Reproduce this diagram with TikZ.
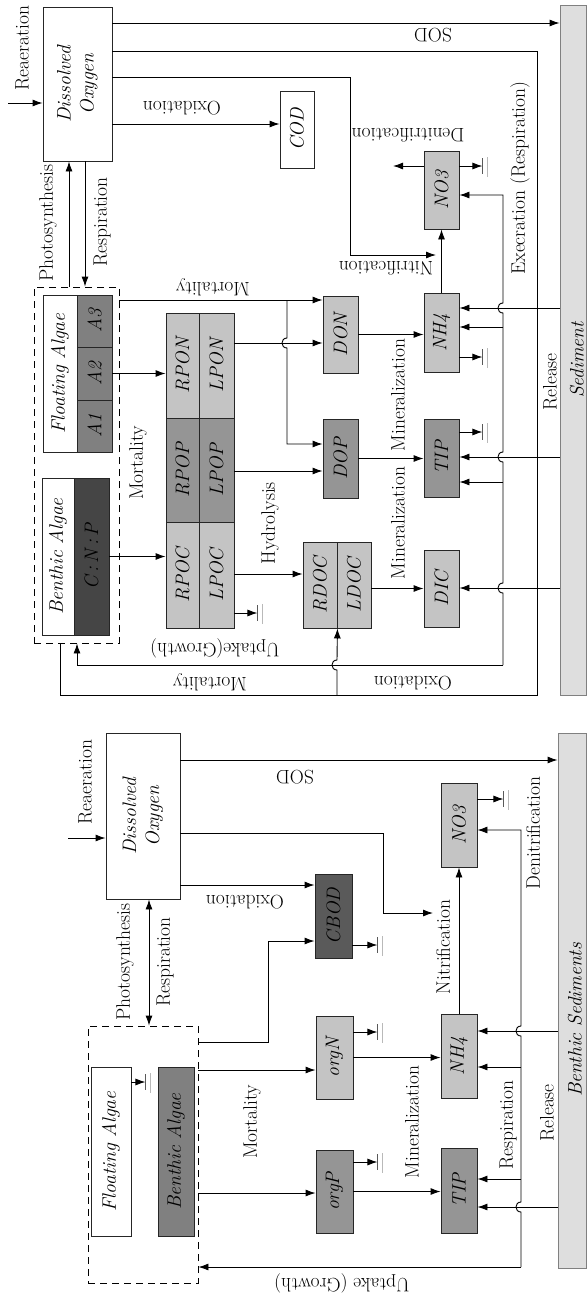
\documentclass[tikz,border=0pt]{standalone}
\usepackage{xcolor}
\usepackage{graphicx}
\usepackage{tikz}
\usetikzlibrary{shapes,arrows,arrows.meta,positioning}

\definecolor{boxlight}{HTML}{C4C4C4}
\definecolor{boxmid}{HTML}{959595}
\definecolor{boxalg}{HTML}{808080}
\definecolor{boxdark}{HTML}{454545}
\definecolor{boxcbod}{HTML}{5A5A5A}
\definecolor{sedfill}{HTML}{DEDEDE}

\newcommand{\figfont}{\fontsize{19.5}{23}\selectfont}
\newcommand{\uptext}[1]{\rotatebox{90}{#1}}

\tikzset{
  box/.style={draw=black!85, line width=0.9pt, inner sep=0pt, font=\figfont\itshape},
  dashbox/.style={draw, line width=0.9pt, dash pattern=on 7pt off 5pt, inner sep=0pt},
  sedbox/.style={draw=gray, fill=sedfill, line width=0.9pt, inner sep=0pt},
  arr/.style={-{Latex[length=10pt,width=7pt]}, line width=0.9pt},
  arrboth/.style={{Latex[length=10pt,width=7pt]}-{Latex[length=10pt,width=7pt]}, line width=0.9pt},
  ln/.style={line width=0.9pt},
  vlbl/.style={rotate=90, inner sep=0pt},
  flbl/.style={rotate=180, inner sep=0pt},
  sink/.pic={
    \draw[line width=0.9pt, gray!70!black] (0,-8) -- (0,8);
    \draw[line width=0.9pt, gray!55] (5,-9) -- (5,11);
  }
}

\begin{document}
\begin{tikzpicture}[x=1pt,y=-1pt,font=\figfont]
\useasboundingbox (0,0) rectangle (587,1299);

% ---------------- upper scheme ----------------
% Boxes
\node[box,minimum width=69,minimum height=154] (DOa) at (77.5,84) {\uptext{\begin{tabular}{@{}c@{}}Dissolved\\Oxygen\end{tabular}}};
\node[box,minimum width=34,minimum height=77] (COD) at (297,129.5) {\uptext{COD}};
\node[box,fill=boxlight,minimum width=35,minimum height=78] (NO3a) at (441.5,190) {\uptext{NO3}};
\node[box,fill=boxlight,minimum width=35,minimum height=79] (NH4a) at (441.5,332.5) {\uptext{NH4}};
\node[box,fill=boxmid,minimum width=35,minimum height=78] (TIPa) at (441.5,458) {\uptext{TIP}};
\node[box,fill=boxlight,minimum width=35,minimum height=77] (DICa) at (441.5,588.5) {\uptext{DIC}};
\node[box,fill=boxlight,minimum width=35,minimum height=77] (DON) at (340.5,334.5) {\uptext{DON}};
\node[box,fill=boxmid,minimum width=35,minimum height=79] (DOP) at (340.5,458.5) {\uptext{DOP}};
\node[box,fill=boxlight,minimum width=34,minimum height=86] (RDOC) at (320,585) {\uptext{RDOC}};
\node[box,fill=boxlight,minimum width=34,minimum height=86] (LDOC) at (354,585) {\uptext{LDOC}};
\node[box,fill=boxlight,minimum width=33,minimum height=105] (RPON) at (182.5,365.5) {\uptext{RPON}};
\node[box,fill=boxlight,minimum width=35,minimum height=105] (LPON) at (216.5,365.5) {\uptext{LPON}};
\node[box,fill=boxmid,minimum width=33,minimum height=104] (RPOP) at (182.5,470) {\uptext{RPOP}};
\node[box,fill=boxmid,minimum width=35,minimum height=104] (LPOP) at (216.5,470) {\uptext{LPOP}};
\node[box,fill=boxlight,minimum width=33,minimum height=106] (RPOC) at (182.5,575) {\uptext{RPOC}};
\node[box,fill=boxlight,minimum width=35,minimum height=106] (LPOC) at (216.5,575) {\uptext{LPOC}};

% Algae group
\node[dashbox,minimum width=85,minimum height=356] (ALGa) at (76.5,465) {};
\node[box,minimum width=34,minimum height=157] (FLa) at (60,373.5) {\uptext{Floating Algae}};
\node[box,fill=boxalg,minimum width=35,minimum height=52] (A3) at (94.5,321) {\uptext{A3}};
\node[box,fill=boxalg,minimum width=35,minimum height=53] (A2) at (94.5,373.5) {\uptext{A2}};
\node[box,fill=boxalg,minimum width=35,minimum height=52] (A1) at (94.5,426) {\uptext{A1}};
\node[box,minimum width=32,minimum height=157] (BEa) at (58,556.5) {\uptext{Benthic Algae}};
\node[box,fill=boxdark,minimum width=35,minimum height=157] (CNP) at (91.5,556.5) {\uptext{C\,:\,N\,:\,P}};

% Sediment
\node[sedbox,minimum width=26,minimum height=690] (SEDa) at (573,350) {};

% Connectors
\coordinate (reaA) at (8,103);
\draw[arr] (reaA) -- (reaA -| DOa.west);
\draw[arr] (DOa.east |- 0,23) -- (SEDa.west |- 0,23);
\draw[ln] (DOa.east |- 0,51) -| (537,695) -| (ALGa.south -| 60,0);
\draw[arr] (337,695) -- (337,670) .. controls (330.3,670) and (330.3,660) .. (337,660) -- (RDOC.south east);
\coordinate (nitA) at (436,255);
\draw[arr] (DOa.east |- 0,77) -| (350,255) -- (nitA);
\draw[arr] (DOa.east |- 0,124) -- (COD.west |- 0,124);
\draw[arr] (ALGa.north -| 69,0) -- (DOa.south -| 69,0);
\draw[arr] (DOa.south -| 85,0) -- (ALGa.north -| 85,0);

\draw[arr] (ALGa.east |- 0,300) -- (DON.west |- 0,300);
\draw[arr] (287,300) -- (287,338) .. controls (280.3,338) and (280.3,348) .. (287,348) -- (287,444) -- (DOP.west |- 0,444);
\draw[arr] (A2.east) -- (RPON.west |- A2.east);
\draw[arr] (CNP.east) -- (RPOC.west |- CNP.east);
\draw[arr] (LPON.east |- 0,343) -- (DON.west |- 0,343);
\draw[arr] (LPOP.east |- 0,471) -- (DOP.west |- 0,471);
\draw[arr] (LPOC.east |- 0,574) -- (RDOC.west |- 0,574);
\draw[arr] (LPOC.east |- 0,613) -- ++(23,0) coordinate (gLPOC);
\path (gLPOC) pic {sink};
\draw[arr] (LDOC.east |- DICa.west) -- (DICa.west);
\draw[arr] (DOP.east) -- (TIPa.west |- DOP.east);
\draw[arr] (DON.east) -- (NH4a.west |- DON.east);
\draw[arr] (NH4a.north) -- (NO3a.south);
\coordinate (denA) at (393,166);
\draw[arr] (NO3a.west |- denA) -- (denA);
\draw[arr] (NO3a.east |- 0,166) -- ++(23,0) coordinate (gNO3a);
\draw[arr] (NH4a.east |- 0,357) -- ++(23,0) coordinate (gNH4a);
\draw[arr] (TIPa.east |- 0,432) -- ++(23,0) coordinate (gTIPa);
\path (gNO3a) pic {sink} (gNH4a) pic {sink} (gTIPa) pic {sink};

\coordinate (exA) at (503,665);
\draw[arr] (exA) -- (503,593) .. controls (496.3,593) and (496.3,583) .. (503,583)
  -- (503,462) .. controls (496.3,462) and (496.3,452) .. (503,452)
  -- (503,313) .. controls (496.3,313) and (496.3,303) .. (503,303)
  -- (503,195) -- (NO3a.east |- 0,195);
\draw[arr] (exA) -| (ALGa.south -| 77,0);
\draw[arr] (503,327) -- (NH4a.east |- 0,327);
\draw[arr] (503,482) -- (TIPa.east |- 0,482);
\draw[arr] (SEDa.west |- 0,308) -- (NH4a.east |- 0,308);
\draw[arr] (SEDa.west |- 0,457) -- (TIPa.east |- 0,457);
\draw[arr] (SEDa.west |- 0,588) -- (DICa.east |- 0,588);

% Labels
\node[vlbl] (lReaA) at (22,48) {Reaeration};
\node[flbl] (lSODA) at (433,35) {SOD};
\node[flbl] (lOxA) at (182,108) {Oxidation};
\node[vlbl] (lPhoA) at (48,223) {Photosynthesis};
\node[vlbl] (lResA) at (102,222) {Respiration};
\node[flbl] (lMorA) at (213,287) {Mortality};
\node[vlbl] (lMorB) at (138,463) {Mortality};
\node[vlbl] (lHyd) at (270,523) {Hydrolysis};
\node[vlbl] (lMinA) at (398,395) {Mineralization};
\node[vlbl] (lMinB) at (398,523) {Mineralization};
\node[flbl] (lNitA) at (386,268) {Nitrification};
\node[flbl] (lDenA) at (408,135) {Denitrification};
\node[vlbl] (lExc) at (520,178) {Execration (Respiration)};
\node[vlbl] (lRelA) at (550,382) {Release};
\node[vlbl,font=\figfont\itshape] (lSedA) at (577,360) {Sediment};
\node[flbl] (lUpA) at (215,648) {Uptake(Growth)};
\node[flbl] (lMorC) at (210,682) {Mortality};
\node[flbl] (lOxB) at (413,683) {Oxidation};

% ---------------- lower scheme ----------------
\node[box,minimum width=74,minimum height=166] (DOb) at (143,816) {\uptext{\begin{tabular}{@{}c@{}}Dissolved\\Oxygen\end{tabular}}};
\node[box,fill=boxcbod,minimum width=37,minimum height=84] (CBOD) at (333.5,916) {\uptext{CBOD}};
\node[box,fill=boxlight,minimum width=37,minimum height=83] (orgN) at (334.5,1057.5) {\uptext{orgN}};
\node[box,fill=boxmid,minimum width=37,minimum height=83] (orgP) at (334.5,1191.5) {\uptext{orgP}};
\node[box,fill=boxlight,minimum width=36,minimum height=84] (NO3b) at (459,825) {\uptext{NO3}};
\node[box,fill=boxlight,minimum width=36,minimum height=84] (NH4b) at (459,1056) {\uptext{NH4}};
\node[box,fill=boxmid,minimum width=36,minimum height=85] (TIPb) at (459,1190.5) {\uptext{TIP}};
\node[dashbox,minimum width=110,minimum height=257] (ALGb) at (143,1154.5) {};
\node[box,minimum width=40,minimum height=169] (FAb) at (111,1151.5) {\uptext{Floating Algae}};
\node[box,fill=boxalg,minimum width=36,minimum height=169] (BAb) at (176,1151.5) {\uptext{Benthic Algae}};
\node[sedbox,minimum width=28,minimum height=535] (SEDb) at (572,1000.5) {};

\coordinate (reaB) at (68,838);
\draw[arr] (reaB) -- (reaB -| DOb.west);
\draw[arr] (DOb.east |- 0,760) -- (SEDb.west |- 0,760);
\coordinate (nitB) at (433,913);
\draw[arr] (DOb.east |- 0,833) -| (383,913) -- (nitB);
\draw[arr] (DOb.east |- 0,885) -- (CBOD.west |- 0,885);
\draw[arrboth] (DOb.south -| 149,0) -- (ALGb.north -| 149,0);
\draw[arr] (ALGb.east |- 0,1042) -| (268,941) -- (CBOD.west |- 0,941);
\draw[arr] (CBOD.east |- 0,945) -- ++(25,0) coordinate (gCBOD);
\draw[arr] (ALGb.east |- 0,1070) -- (orgN.west |- 0,1070);
\draw[arr] (ALGb.east |- 0,1193) -- (orgP.west |- 0,1193);
\draw[arr] (FAb.east |- 0,1082) -- ++(14,0) coordinate (gFAb);
\draw[arr] (orgN.east |- 0,1032) -- ++(24,0) coordinate (gorgN);
\draw[arr] (orgP.east |- 0,1162) -- ++(24,0) coordinate (gorgP);
\draw[arr] (orgN.east) -- (NH4b.west |- orgN.east);
\draw[arr] (orgP.east) -- (TIPb.west |- orgP.east);
\draw[arr] (NH4b.north) -- (NO3b.south);
\draw[arr] (NO3b.east |- 0,799) -- ++(26,0) coordinate (gNO3b);
\path (gCBOD) pic {sink} (gFAb) pic {sink} (gorgN) pic {sink} (gorgP) pic {sink} (gNO3b) pic {sink};

\coordinate (upB) at (521,1267);
\draw[arr] (upB) -- (521,1212) .. controls (514.3,1212) and (514.3,1202) .. (521,1202)
  -- (521,1036) .. controls (514.3,1036) and (514.3,1026) .. (521,1026)
  -- (521,830) -- (NO3b.east |- 0,830);
\draw[arr] (upB) -- (ALGb.east |- upB);
\draw[arr] (521,1067) -- (NH4b.east |- 0,1067);
\draw[arr] (521,1179) -- (TIPb.east |- 0,1179);
\draw[arr] (SEDb.west |- 0,1031) -- (NH4b.east |- 0,1031);
\draw[arr] (SEDb.west |- 0,1207) -- (TIPb.east |- 0,1207);

\node[vlbl] (lReaB) at (85,782) {Reaeration};
\node[flbl] (lSODB) at (295,777) {SOD};
\node[flbl] (lOxC) at (245,902) {Oxidation};
\node[vlbl] (lPhoB) at (125,962) {Photosynthesis};
\node[vlbl] (lResB) at (165,962) {Respiration};
\node[vlbl] (lMorD) at (252,1122) {Mortality};
\node[vlbl] (lMinC) at (412,1122) {Mineralization};
\node[vlbl] (lNitB) at (443,947) {Nitrification};
\node[vlbl] (lDenB) at (533,833) {Denitrification};
\node[vlbl] (lResC) at (508,1125) {Respiration};
\node[vlbl] (lRelB) at (547,1113) {Release};
\node[vlbl,font=\figfont\itshape] (lSedB) at (575,1020) {Benthic Sediments};
\node[flbl] (lUpB) at (342,1283) {Uptake (Growth)};

\end{tikzpicture}
\end{document}
